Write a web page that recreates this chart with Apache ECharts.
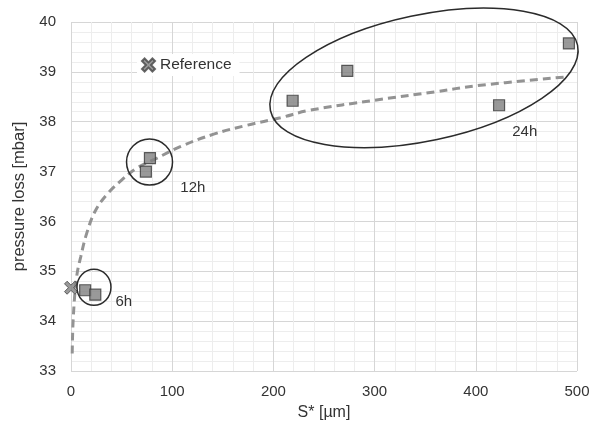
<!DOCTYPE html>
<html>
<head>
<meta charset="utf-8">
<script src="https://cdn.jsdelivr.net/npm/echarts@6/dist/echarts.min.js"></script>
<style>
html,body{margin:0;padding:0;background:#fff;}
#main{width:603px;height:428px;}
</style>
</head>
<body>
<div id="main"></div>
<script>
// ---- data ----
var sampleX = [14, 24, 78, 74, 219, 273, 423, 492];
var sampleY = [34.62, 34.53, 37.27, 37.0, 38.42, 39.02, 38.33, 39.57];
var referenceX = [0];
var referenceY = [34.67];
var fitX = [1.2, 2.3, 5.6, 9.6, 15.5, 23.7, 35, 50, 65, 85, 108, 141, 174, 207, 236, 300, 360, 400, 490];
var fitY = [33.35, 34.09, 34.89, 35.29, 35.76, 36.2, 36.53, 36.83, 37.07, 37.27, 37.5, 37.75, 37.93, 38.08, 38.23, 38.43, 38.6, 38.72, 38.9];
var groupLabels = ['6h', '12h', '24h'];
var groupCenterX = [22.7, 77.6, 348.8];
var groupCenterY = [34.68, 37.19, 38.88];
var groupLabelX = [44, 108, 436];
var groupLabelY = [34.38, 36.68, 37.8];
var xTicks = [0, 100, 200, 300, 400, 500];
var yTicks = [33, 34, 35, 36, 37, 38, 39, 40];

function zip(a, b) { return a.map(function (v, i) { return [v, b[i]]; }); }

var chart = echarts.init(document.getElementById('main'));
var font = 'Liberation Sans, Arial, sans-serif';
var xPath = 'path://M2,0 L5,3 L8,0 L10,2 L7,5 L10,8 L8,10 L5,7 L2,10 L0,8 L3,5 L0,2 Z';

chart.setOption({
  animation: false,
  backgroundColor: '#fff',
  textStyle: { fontFamily: font },
  grid: { left: 71, right: 26, top: 22, bottom: 57 },
  legend: {
    data: [{ name: 'Reference', icon: xPath }],
    left: 137, top: 54,
    itemWidth: 13, itemHeight: 13, itemGap: 6,
    backgroundColor: '#fff',
    padding: [3, 8, 3, 4],
    textStyle: { fontSize: 15.5, color: '#333', fontFamily: font }
  },
  xAxis: {
    type: 'value', min: xTicks[0], max: xTicks[xTicks.length - 1], interval: 100,
    name: 'S* [µm]', nameLocation: 'middle', nameGap: 34,
    nameTextStyle: { fontSize: 16, color: '#333', fontFamily: font },
    axisLine: { show: false }, axisTick: { show: false },
    axisLabel: { fontSize: 15, color: '#333', margin: 13, fontFamily: font },
    splitLine: { show: true, lineStyle: { color: '#d6d6d6', width: 1 } },
    minorTick: { show: false, splitNumber: 5 },
    minorSplitLine: { show: true, lineStyle: { color: '#ededed', width: 1 } }
  },
  yAxis: {
    type: 'value', min: yTicks[0], max: yTicks[yTicks.length - 1], interval: 1,
    name: 'pressure loss [mbar]', nameLocation: 'middle', nameGap: 38,
    nameTextStyle: { fontSize: 16.5, color: '#333', fontFamily: font },
    axisLine: { show: false }, axisTick: { show: false },
    axisLabel: { fontSize: 15, color: '#333', margin: 15, fontFamily: font },
    splitLine: { show: true, lineStyle: { color: '#d6d6d6', width: 1 } },
    minorTick: { show: false, splitNumber: 5 },
    minorSplitLine: { show: true, lineStyle: { color: '#ededed', width: 1 } }
  },
  series: [
    {
      name: 'fit', type: 'line', data: zip(fitX, fitY), smooth: 0.4,
      showSymbol: false, symbol: 'none',
      lineStyle: { color: '#939393', width: 3, type: [8, 5] },
      z: 2
    },
    {
      name: 'Samples', type: 'scatter', data: zip(sampleX, sampleY),
      symbol: 'rect', symbolSize: 11,
      itemStyle: { color: '#7f7f7f', borderColor: '#3a3a3a', borderWidth: 1.2 },
      z: 4
    },
    {
      name: 'Reference', type: 'scatter', data: zip(referenceX, referenceY),
      symbol: xPath, symbolSize: 13,
      itemStyle: { color: '#7f7f7f', borderColor: '#444', borderWidth: 1 },
      z: 5
    }
  ]
});

var radiiX = [17, 23, 157];
var radiiY = [18, 23, 63];
var rot = [0, 0, 12 * Math.PI / 180];
var graphics = [];
for (var i = 0; i < groupLabels.length; i++) {
  var c = chart.convertToPixel({ gridIndex: 0 }, [groupCenterX[i], groupCenterY[i]]);
  graphics.push({
    type: 'ellipse', x: c[0], y: c[1], rotation: rot[i],
    shape: { cx: 0, cy: 0, rx: radiiX[i], ry: radiiY[i] },
    style: { fill: 'none', stroke: '#2b2b2b', lineWidth: 1.5 },
    z: 10
  });
  var l = chart.convertToPixel({ gridIndex: 0 }, [groupLabelX[i], groupLabelY[i]]);
  graphics.push({
    type: 'text', x: l[0], y: l[1],
    style: { text: groupLabels[i], font: '15px ' + font, fill: '#333', textAlign: 'left', textVerticalAlign: 'middle' },
    z: 10
  });
}
chart.setOption({ graphic: graphics });
</script>
</body>
</html>
